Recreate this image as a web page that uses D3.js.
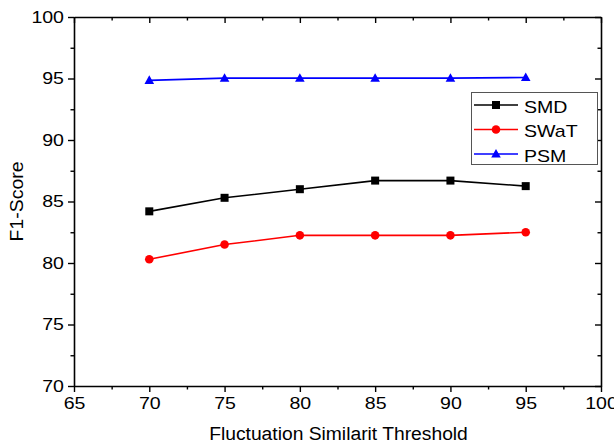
<!DOCTYPE html>
<html>
<head>
<meta charset="utf-8">
<script src="https://cdn.jsdelivr.net/npm/d3@7/dist/d3.min.js"></script>
<style>
  html, body { margin: 0; padding: 0; background: #fff; }
  svg { display: block; }
  text { font-family: "Liberation Sans", Arial, sans-serif; fill: #000; }
</style>
</head>
<body>
<svg id="chart" width="614" height="444"></svg>
<script>
// Thresholds on the x axis
const thresholds = [70, 75, 80, 85, 90, 95];

// F1-scores per dataset
const smd  = [84.2, 85.3, 86.0, 86.7, 86.7, 86.25];
const swat = [80.3, 81.5, 82.25, 82.25, 82.25, 82.5];
const psm  = [94.85, 95.03, 95.03, 95.03, 95.03, 95.08];

const seriesNames = ["SMD", "SWaT", "PSM"];
const seriesColors = ["#000000", "#ff0000", "#0000ff"];
const seriesShapes = ["square", "circle", "triangle"];

const xTicks = [65, 70, 75, 80, 85, 90, 95, 100];
const yTicks = [70, 75, 80, 85, 90, 95, 100];

const xTitle = "Fluctuation Similarit Threshold";
const yTitle = "F1-Score";

const svg = d3.select("#chart");
const margin = { left: 74, right: 13, top: 17, bottom: 58 };
const W = 614, H = 444;

const x = d3.scaleLinear().domain([65, 100]).range([margin.left, W - margin.right]);
const y = d3.scaleLinear().domain([70, 100]).range([H - margin.bottom, margin.top]);

const minorX = d3.range(67.5, 100, 5);
const minorY = d3.range(72.5, 100, 5);

// Widen glyphs horizontally (the typeface is set a little wide)
function widen(sel, factor) {
  sel.each(function () {
    const w = this.getComputedTextLength();
    d3.select(this).attr("textLength", w * factor).attr("lengthAdjust", "spacingAndGlyphs");
  });
}

function styleAxis(g) {
  g.select(".domain").attr("stroke", "#000").attr("stroke-width", 1.6);
  g.selectAll(".tick line").attr("stroke", "#000").attr("stroke-width", 1.4);
  g.selectAll(".tick text")
    .style("font-size", "17px")
    .style("font-family", '"Liberation Sans", Arial, sans-serif')
    .call(widen, 1.15);
}

function minorTicks(g) {
  g.select(".domain").remove();
  g.selectAll("line").attr("stroke", "#000").attr("stroke-width", 1.4);
}

// Bottom and left axes: ticks pointing outward
const axisBottom = svg.append("g")
  .attr("transform", `translate(0,${y(70)})`)
  .call(d3.axisBottom(x).tickValues(xTicks).tickSize(6).tickPadding(5).tickSizeOuter(0));
styleAxis(axisBottom);
svg.append("g")
  .attr("transform", `translate(0,${y(70)})`)
  .call(d3.axisBottom(x).tickValues(minorX).tickSize(3.5).tickFormat("").tickSizeOuter(0))
  .call(minorTicks);

const axisLeft = svg.append("g")
  .attr("transform", `translate(${x(65)},0)`)
  .call(d3.axisLeft(y).tickValues(yTicks).tickSize(6).tickPadding(4).tickSizeOuter(0));
styleAxis(axisLeft);
svg.append("g")
  .attr("transform", `translate(${x(65)},0)`)
  .call(d3.axisLeft(y).tickValues(minorY).tickSize(3.5).tickFormat("").tickSizeOuter(0))
  .call(minorTicks);

// Top and right axes: ticks pointing into the plot
const axisTop = svg.append("g")
  .attr("transform", `translate(0,${y(100)})`)
  .call(d3.axisTop(x).tickValues(xTicks).tickSize(-6).tickFormat("").tickSizeOuter(0));
styleAxis(axisTop);
svg.append("g")
  .attr("transform", `translate(0,${y(100)})`)
  .call(d3.axisTop(x).tickValues(minorX).tickSize(-3.5).tickFormat("").tickSizeOuter(0))
  .call(minorTicks);

const axisRight = svg.append("g")
  .attr("transform", `translate(${x(100)},0)`)
  .call(d3.axisRight(y).tickValues(yTicks).tickSize(-6).tickFormat("").tickSizeOuter(0));
styleAxis(axisRight);
svg.append("g")
  .attr("transform", `translate(${x(100)},0)`)
  .call(d3.axisRight(y).tickValues(minorY).tickSize(-3.5).tickFormat("").tickSizeOuter(0))
  .call(minorTicks);

// Axis titles
svg.append("text")
  .attr("x", (x(65) + x(100)) / 2 + 1)
  .attr("y", 440)
  .attr("text-anchor", "middle")
  .style("font-size", "18px")
  .text(xTitle)
  .call(widen, 1.07);

svg.append("text")
  .attr("transform", `translate(23,${(y(70) + y(100)) / 2}) rotate(-90)`)
  .attr("text-anchor", "middle")
  .style("font-size", "18px")
  .text(yTitle)
  .call(widen, 1.08);

// Marker drawing
function drawMarker(g, shape, color, cx, cy) {
  if (shape === "square") {
    g.append("rect").attr("x", cx - 4).attr("y", cy - 4).attr("width", 8).attr("height", 8).attr("fill", color);
  } else if (shape === "circle") {
    g.append("circle").attr("cx", cx).attr("cy", cy).attr("r", 4.3).attr("fill", color);
  } else {
    g.append("path")
      .attr("d", `M${cx},${cy - 5} L${cx + 4.8},${cy + 3.6} L${cx - 4.8},${cy + 3.6} Z`)
      .attr("fill", color);
  }
}

const allSeries = [smd, swat, psm];
const line = d3.line().x(d => x(d[0])).y(d => y(d[1]));

allSeries.forEach((vals, i) => {
  const pts = thresholds.map((t, j) => [t, vals[j]]);
  const g = svg.append("g");
  g.append("path")
    .attr("d", line(pts))
    .attr("fill", "none")
    .attr("stroke", seriesColors[i])
    .attr("stroke-width", 1.6);
  pts.forEach(p => drawMarker(g, seriesShapes[i], seriesColors[i], x(p[0]), y(p[1])));
});

// Legend
const legend = svg.append("g");
legend.append("rect")
  .attr("x", 471.5).attr("y", 92.5).attr("width", 126).attr("height", 72)
  .attr("fill", "#fff").attr("stroke", "#555").attr("stroke-width", 1);
seriesNames.forEach((name, i) => {
  const ly = 105 + i * 24.5;
  legend.append("line")
    .attr("x1", 474).attr("x2", 518).attr("y1", ly).attr("y2", ly)
    .attr("stroke", seriesColors[i]).attr("stroke-width", 1.6);
  drawMarker(legend, seriesShapes[i], seriesColors[i], 496, ly);
  legend.append("text")
    .attr("x", 524).attr("y", ly + 7.5)
    .style("font-size", "17px")
    .text(name)
    .call(widen, 1.15);
});
</script>
</body>
</html>
